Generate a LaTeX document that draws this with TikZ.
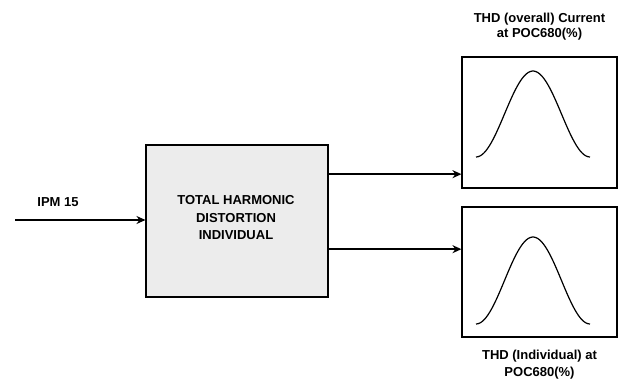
\documentclass[tikz,border=0pt]{standalone}
\usepackage{fontspec}
\setmainfont{Liberation Sans}
\usepackage{tikz}
\usetikzlibrary{calc, positioning, arrows.meta}
\definecolor{boxfill}{RGB}{236, 236, 236}

\tikzset{
  lbl/.style={font=\bfseries\fontsize{13}{15}\selectfont, align=center, inner sep=0pt},
  graphbox/.style={draw, line width=1.1pt, minimum width=155pt, minimum height=131pt, inner sep=0pt},
  flow/.style={line width=1.6pt, -{Stealth[length=9pt, width=8pt]}},
  bump/.style={line width=1.2pt, domain=-57:57, samples=60, smooth}
}

\begin{document}
\begin{tikzpicture}[x=1pt, y=-1pt]
  \useasboundingbox (0,0) rectangle (621,380);
  % Main block
  \node[draw, line width=1.1pt, fill=boxfill, minimum width=182pt, minimum height=152pt,
        lbl, font=\bfseries\fontsize{13}{17.5}\selectfont] (thd) at (237,221) {};
  \node[lbl, font=\bfseries\fontsize{13}{17.5}\selectfont] (thdLbl) at (236,218)
        {TOTAL HARMONIC\\DISTORTION\\INDIVIDUAL};
  % Output graphs
  \node[graphbox] (overall) at (539.5,122.5) {};
  \node[graphbox, minimum height=130pt] (indiv) at (539.5,272) {};
  \node[lbl, above=16pt of overall] (overallLbl) {THD (overall) Current\\at POC680(\%)};
  \node[lbl, below=12pt of indiv, font=\bfseries\fontsize{13}{17}\selectfont] (indivLbl) {THD (Individual) at\\POC680(\%)};
  % Bell curves
  \draw[bump, shift={($(overall.center)+(-6.5,34.5)$)}] plot ({\x}, {-43*(1+cos(180*\x/57))});
  \draw[bump, shift={($(indiv.center)+(-6.5,52)$)}] plot ({\x}, {-43.5*(1+cos(180*\x/57))});
  % Input
  \coordinate (ipm) at (15,220);
  \node[lbl] (ipmLbl) at (58,202) {IPM 15};
  \draw[flow] (ipm) -- (ipm -| thd.west);
  % Outputs
  \coordinate (outA) at ($(thd.north east)!0.194!(thd.south east)$);
  \coordinate (outB) at ($(thd.north east)!0.684!(thd.south east)$);
  \draw[flow] (outA) -- (outA -| overall.west);
  \draw[flow] (outB) -- (outB -| indiv.west);
\end{tikzpicture}
\end{document}
